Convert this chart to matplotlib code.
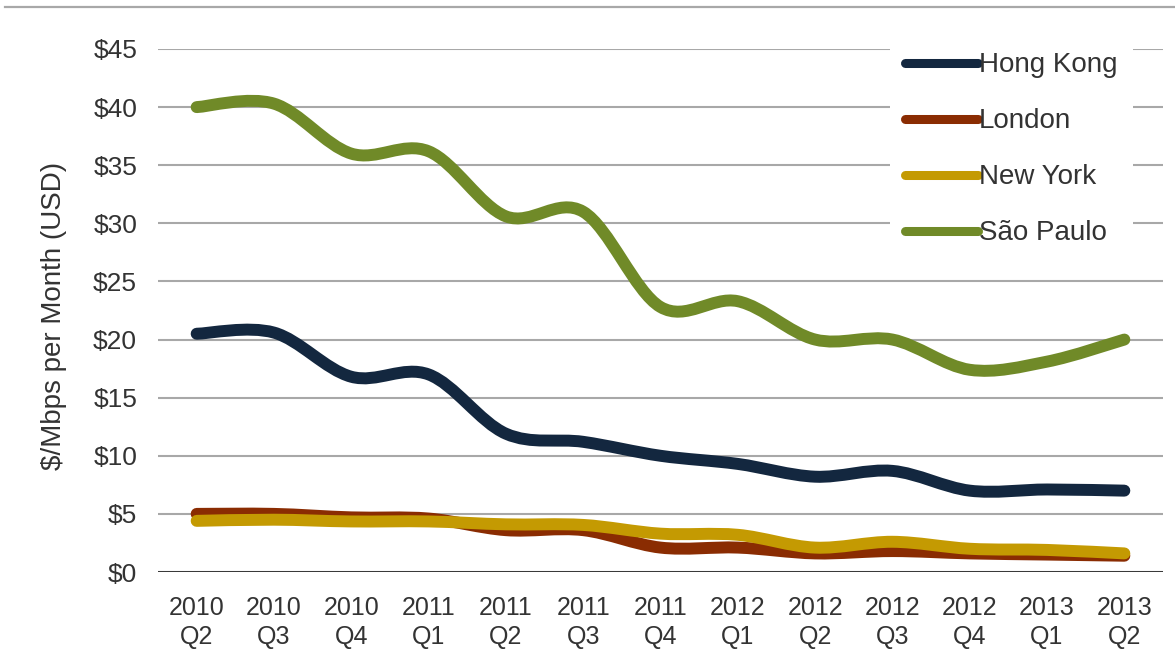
import matplotlib
matplotlib.use("Agg")
import matplotlib.pyplot as plt
from matplotlib.path import Path
from matplotlib.patches import PathPatch
from matplotlib.lines import Line2D

# ---------------- data ----------------
quarters = ["2010\nQ2", "2010\nQ3", "2010\nQ4", "2011\nQ1", "2011\nQ2", "2011\nQ3",
            "2011\nQ4", "2012\nQ1", "2012\nQ2", "2012\nQ3", "2012\nQ4", "2013\nQ1", "2013\nQ2"]
hong_kong = [20.5, 20.6, 16.8, 17.0, 11.9, 11.2, 10.0, 9.3, 8.2, 8.7, 7.0, 7.1, 7.0]
london    = [5.0, 5.0, 4.7, 4.6, 3.6, 3.6, 2.1, 2.1, 1.6, 1.8, 1.6, 1.5, 1.4]
new_york  = [4.4, 4.5, 4.35, 4.35, 4.1, 4.05, 3.3, 3.2, 2.1, 2.6, 2.0, 1.9, 1.6]
sao_paulo = [40.0, 40.3, 36.0, 36.2, 30.6, 31.0, 22.8, 23.3, 20.0, 20.0, 17.4, 18.1, 20.0]
series_names = ["Hong Kong", "London", "New York", "São Paulo"]
y_ticks = [0, 5, 10, 15, 20, 25, 30, 35, 40, 45]
y_tick_labels = ["$0", "$5", "$10", "$15", "$20", "$25", "$30", "$35", "$40", "$45"]

colors = {"Hong Kong": "#13273f", "London": "#8a2c02",
          "New York": "#c49a02", "São Paulo": "#708a28"}

plt.rcParams["font.family"] = ["Liberation Sans", "DejaVu Sans"]

fig = plt.figure(figsize=(11.75, 6.51), dpi=100)
ax = fig.add_axes([158 / 1175, 79 / 651, 1005 / 1175, 523 / 651])


def smooth_path(xs, ys):
    """Catmull-Rom style cubic Bezier path through the data points."""
    n = len(xs)
    verts = [(xs[0], ys[0])]
    codes = [Path.MOVETO]
    for i in range(n - 1):
        xm1, ym1 = (xs[i - 1], ys[i - 1]) if i > 0 else (xs[i], ys[i])
        xp2, yp2 = (xs[i + 2], ys[i + 2]) if i + 2 < n else (xs[i + 1], ys[i + 1])
        c1 = (xs[i] + (xs[i + 1] - xm1) / 6.0, ys[i] + (ys[i + 1] - ym1) / 6.0)
        c2 = (xs[i + 1] - (xp2 - xs[i]) / 6.0, ys[i + 1] - (yp2 - ys[i]) / 6.0)
        verts += [c1, c2, (xs[i + 1], ys[i + 1])]
        codes += [Path.CURVE4] * 3
    return Path(verts, codes)


x = list(range(len(quarters)))
data = {"Hong Kong": hong_kong, "London": london,
        "New York": new_york, "São Paulo": sao_paulo}
draw_order = ["London", "New York", "Hong Kong", "São Paulo"]
for z, name in enumerate(draw_order):
    patch = PathPatch(smooth_path(x, data[name]), facecolor="none",
                      edgecolor=colors[name], lw=8.6, capstyle="round",
                      joinstyle="round", zorder=3 + z, clip_on=False)
    ax.add_patch(patch)

# grid lines
for yv in y_ticks[1:]:
    ax.axhline(yv, color="#a8a8a8", lw=1.5, zorder=1)
ax.axhline(0, color="#3a3a3a", lw=2.2, zorder=2)

ax.set_xlim(-0.5, 12.5)
ax.set_ylim(0, 45)
ax.set_xticks(x)
ax.set_xticklabels(quarters, fontsize=18, color="#333333", linespacing=1.28)
ax.set_yticks(y_ticks)
ax.set_yticklabels(y_tick_labels, fontsize=19, color="#333333")
ax.tick_params(axis="x", length=0, pad=17)
ax.tick_params(axis="y", length=0, pad=15)
for s in ax.spines.values():
    s.set_visible(False)

ax.set_ylabel("$/Mbps per Month (USD)", fontsize=20, color="#333333")
ax.yaxis.set_label_coords(-0.091, 0.49)

# legend
handles = [Line2D([0], [0], color=colors[n], lw=6.5, solid_capstyle="round")
           for n in series_names]
leg = ax.legend(handles, series_names, loc="upper left",
                bbox_to_anchor=(890 / 1175, 1 - 37 / 651),
                bbox_transform=fig.transFigure, fontsize=20,
                frameon=True, facecolor="white", edgecolor="none", framealpha=1,
                fancybox=False, handlelength=2.6, handletextpad=0.05,
                labelspacing=1.08, borderpad=0.55, borderaxespad=0)
for t in leg.get_texts():
    t.set_color("#333333")
leg.set_zorder(10)

# decorative top rule
fig.add_artist(Line2D([5 / 1175, 1.0], [1 - 6.5 / 651, 1 - 6.5 / 651],
                      transform=fig.transFigure, color="#a8a8a8", lw=1.6))

fig.savefig("out.png", dpi=100, facecolor="white")
